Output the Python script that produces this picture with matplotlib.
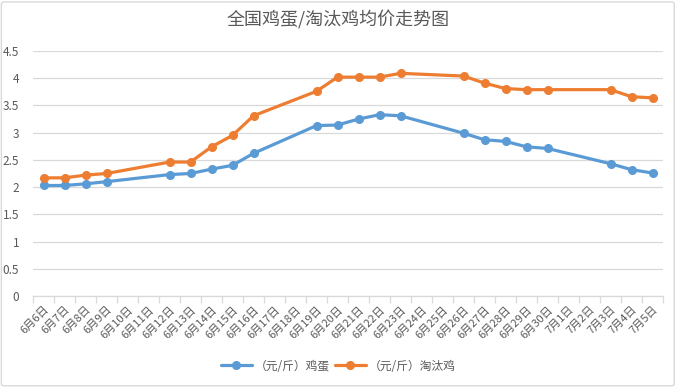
import numpy as np
import matplotlib.pyplot as plt
from matplotlib.patches import FancyBboxPatch

plt.rcParams['font.family'] = ['Noto Sans CJK SC', 'DejaVu Sans']

# Category axis: every day from 6/6 to 7/5
dates = [f"6月{d}日" for d in range(6, 31)] + [f"7月{d}日" for d in range(1, 6)]

# Prices (元/斤); None where no quote that day
egg = [2.03, 2.03, 2.06, 2.10, None, None, 2.23, 2.25, 2.33, 2.40,
       2.62, None, None, 3.13, 3.14, 3.25, 3.33, 3.31, None, None,
       2.99, 2.87, 2.84, 2.74, 2.71, None, None, 2.43, 2.32, 2.26]
hen = [2.17, 2.17, 2.22, 2.25, None, None, 2.46, 2.46, 2.74, 2.95,
       3.31, None, None, 3.76, 4.02, 4.02, 4.02, 4.09, None, None,
       4.04, 3.91, 3.81, 3.79, 3.79, None, None, 3.79, 3.66, 3.64]

series_names = ["（元/斤）鸡蛋", "（元/斤）淘汰鸡"]
colors = ["#5B9BD5", "#ED7D31"]
text_color = "#595959"

fig = plt.figure(figsize=(6.77, 3.87), dpi=100)
ax = fig.add_axes([33 / 677, 1 - 296 / 387, 630 / 677, 245 / 387])

x = np.arange(len(dates))
for vals, name, c in zip([egg, hen], series_names, colors):
    v = np.array([np.nan if a is None else a for a in vals], dtype=float)
    m = ~np.isnan(v)
    ax.plot(x[m], v[m], color=c, lw=2.3, marker='o', ms=5.5, label=name,
            solid_capstyle='round')

ax.set_xlim(-0.5, len(dates) - 0.5)
ax.set_ylim(0, 4.5)
ax.set_yticks(np.arange(0, 4.51, 0.5))
ax.set_yticklabels(["0", "0.5", "1", "1.5", "2", "2.5", "3", "3.5", "4", "4.5"])
ax.grid(axis='y', color='#d9d9d9', lw=0.9)
ax.set_axisbelow(True)
for s in ['top', 'right', 'left']:
    ax.spines[s].set_visible(False)
ax.spines['bottom'].set_color('#d9d9d9')
ax.spines['bottom'].set_linewidth(0.9)

# ticks at category boundaries, labels at centres
ax.set_xticks(np.arange(-0.5, len(dates), 1))
ax.set_xticklabels([])
ax.set_xticks(x, minor=True)
ax.set_xticklabels(dates, minor=True, rotation=45, ha='right',
                   rotation_mode='anchor', fontsize=8, color=text_color)
ax.tick_params(axis='x', which='major', length=5, color='#d9d9d9', width=0.9)
ax.tick_params(axis='x', which='minor', length=0, pad=6)
ax.tick_params(axis='y', length=0, labelsize=8.5, labelcolor=text_color, pad=10)

fig.text(0.5, 1 - 20 / 387, "全国鸡蛋/淘汰鸡均价走势图", ha='center', va='center',
         fontsize=13, color=text_color)

fig.legend(loc='center', bbox_to_anchor=(0.5, 1 - 366 / 387), ncol=2, frameon=False,
           fontsize=8.5, labelcolor=text_color, handlelength=2.6,
           columnspacing=0.4, handletextpad=0.3)

fig.patches.append(FancyBboxPatch((0.002, 0.003), 0.994, 0.992,
                                  boxstyle="round,pad=0,rounding_size=0.005",
                                  transform=fig.transFigure, fill=False,
                                  ec='#d9d9d9', lw=1))

fig.savefig("out.png", dpi=100)
